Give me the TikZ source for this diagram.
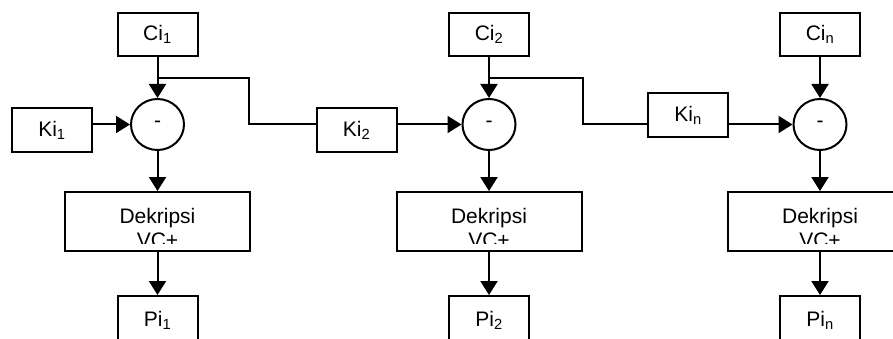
\documentclass[tikz,border=0pt]{standalone}
\usepackage{fontspec}
\setmainfont{Liberation Sans}
\usepackage{tikz}
\usetikzlibrary{arrows.meta, shapes.geometric}

\tikzset{
  blok/.style={draw, line width=2pt, inner sep=0pt, minimum width=80pt, minimum height=44pt},
  kurang/.style={draw, ellipse, line width=2pt, inner sep=0pt, minimum width=53pt, minimum height=51pt},
  panah/.style={line width=2pt, -{Triangle[length=14pt, width=17pt]}},
  garis/.style={line width=2pt}
}

\begin{document}
\begin{tikzpicture}[x=1pt, y=-1pt, font=\fontsize{21}{24}\selectfont]
      \path[use as bounding box, clip] (0,0) rectangle (893,339);

      % cipher blocks
      \node[blok, minimum height=43pt] (Ci1) at (157.5,34.5) {Ci\textsubscript{1}};
      \node[blok, minimum height=43pt] (Ci2) at (489,34.5) {Ci\textsubscript{2}};
      \node[blok, minimum height=43pt] (Cin) at (820,34.5) {Ci\textsubscript{n}};

      % subtraction
      \node[kurang] (c1) at (157.5,124.5) {-};
      \node[kurang] (c2) at (489,124.5) {-};
      \node[kurang] (c3) at (820,124.5) {-};

      % keys
      \node[blok] (Ki1) at (52,130) {Ki\textsubscript{1}};
      \node[blok] (Ki2) at (356.5,130) {Ki\textsubscript{2}};
      \node[blok] (Kin) at (688,115.3) {Ki\textsubscript{n}};

      % decryption
      \node[blok, minimum width=185pt, minimum height=58.5pt] (D1) at (157.5,221.3) {};
      \node[blok, minimum width=185pt, minimum height=58.5pt] (D2) at (489,221.3) {};
      \node[blok, minimum width=185pt, minimum height=58.5pt] (D3) at (820,221.3) {};
      \begin{scope}
        \clip (65,190) rectangle (893,243);
        \node[anchor=base] (D1a) at (157.5,223.3) {Dekripsi};
        \node[anchor=base] (D1b) at (157.5,247.7) {VC+};
        \node[anchor=base] (D2a) at (489,223.3) {Dekripsi};
        \node[anchor=base] (D2b) at (489,247.7) {VC+};
        \node[anchor=base] (D3a) at (820,223.3) {Dekripsi};
        \node[anchor=base] (D3b) at (820,247.7) {VC+};
      \end{scope}

      % plain blocks
      \node[blok, minimum height=48pt] (Pi1) at (157.5,320) {Pi\textsubscript{1}};
      \node[blok, minimum height=48pt] (Pi2) at (489,320) {Pi\textsubscript{2}};
      \node[blok, minimum height=48pt] (Pin) at (820,320) {Pi\textsubscript{n}};

      \coordinate (j1) at (157.5,78);
      \coordinate (b1) at (249.3,78);
      \coordinate (j2) at (489,78);
      \coordinate (b2) at (582.7,78);

      \draw[panah] (Ci1) -- (c1);
      \draw[panah] (Ci2) -- (c2);
      \draw[panah] (Cin) -- (c3);

      \draw[garis] (j1) -- (b1) |- (Ki2.west |- c2.west);
      \draw[garis] (j2) -- (b2) |- (Kin.west |- c3.west);

      \draw[panah] (Ki1.east |- c1.west) -- (c1.west);
      \draw[panah] (Ki2.east |- c2.west) -- (c2.west);
      \draw[panah] (Kin.east |- c3.west) -- (c3.west);

      \draw[panah] (c1) -- (D1);
      \draw[panah] (c2) -- (D2);
      \draw[panah] (c3) -- (D3);

      \draw[panah] (D1) -- (Pi1);
      \draw[panah] (D2) -- (Pi2);
      \draw[panah] (D3) -- (Pin);
    \end{tikzpicture}
\end{document}
